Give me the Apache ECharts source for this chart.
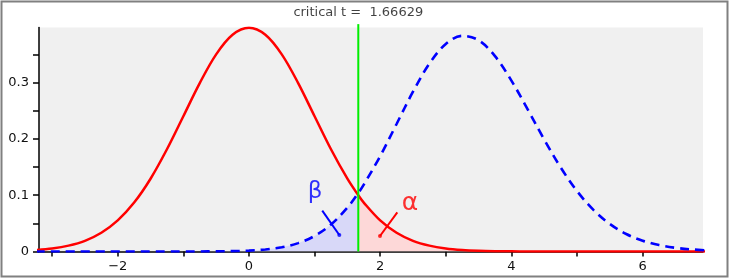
<!DOCTYPE html>
<html>
<head>
<meta charset="utf-8">
<script src="https://cdn.jsdelivr.net/npm/echarts@6/dist/echarts.min.js"></script>
<style>
html,body{margin:0;padding:0;background:#fff;}
#c{width:731px;height:280px;}
</style>
</head>
<body>
<div id="c"></div>
<script>
// ---- data ----
var xValues = [-3.25,-3,-2.75,-2.5,-2.25,-2,-1.75,-1.5,-1.25,-1,-0.75,-0.5,-0.25,0,0.25,0.5,0.75,1,1.25,1.5,1.66629,1.75,2,2.25,2.5,2.75,3,3.25,3.5,3.75,4,4.25,4.5,4.75,5,5.25,5.5,5.75,6,6.25,6.5,6.75,7];
var centralT = [0.0027,0.0054,0.0104,0.0190,0.0333,0.0553,0.0869,0.1293,0.1816,0.2403,0.2992,0.3503,0.3851,0.3975,0.3851,0.3503,0.2992,0.2403,0.1816,0.1293,0.0999,0.0869,0.0553,0.0333,0.0190,0.0104,0.0054,0.0027,0.0013,0.0006,0.0003,0.0001,0,0,0,0,0,0,0,0,0,0,0];
var noncentralT = [0,0,0,0,0,0,0,0,0,0,0.0001,0.0003,0.0007,0.0016,0.0036,0.0075,0.0149,0.0276,0.0479,0.0780,0.1039,0.1188,0.1695,0.2266,0.2839,0.3338,0.3688,0.3832,0.3753,0.3471,0.3037,0.2521,0.1989,0.1495,0.1074,0.0739,0.0489,0.0311,0.0192,0.0114,0.0066,0.0037,0.0020];
var criticalT = 1.66629;
var criticalLineTop = 0.404;
var xTickValues = [-3,-2,-1,0,1,2,3,4,5,6];
var xLabelValues = [-2,0,2,4,6];
var yTickValues = [0,0.05,0.1,0.15,0.2,0.25,0.3,0.35];
var yLabelValues = [0,0.1,0.2,0.3];
var betaText = 'β', alphaText = 'α';
var betaLabelAt = [1.006,0.1057], betaPointer = [[1.117,0.0725],[1.377,0.0293]];
var alphaLabelAt = [2.454,0.0861], alphaPointer = [[2.261,0.0696],[1.997,0.0275]];

// ---- build series data ----
function pairs(xs, ys){ return xs.map(function(x,i){return [x, ys[i]];}); }
var redData = pairs(xValues, centralT);
var blueData = pairs(xValues, noncentralT);
var cut = xValues.indexOf(criticalT);
var betaArea = blueData.slice(0, cut + 1);
var alphaArea = redData.slice(cut);

var font = 'DejaVu Sans';
var chart = echarts.init(document.getElementById('c'), null, {renderer:'canvas'});
var SM = 0.35;
chart.setOption({
  animation:false,
  backgroundColor:'#ffffff',
  graphic:[{type:'rect', shape:{x:1.5,y:1.5,width:726,height:275}, style:{fill:null, stroke:'#808080', lineWidth:2}, silent:true, z:-1}],
  grid:{left:39, right:28, top:27.5, bottom:28.5, show:true, backgroundColor:'#f0f0f0', borderWidth:0},
  xAxis:{type:'value', min:-3.2, max:6.92,
    axisLine:{onZero:false, lineStyle:{color:'#000', width:1.5}},
    axisTick:{customValues:xTickValues, length:5, lineStyle:{color:'#000', width:1.5}},
    axisLabel:{customValues:xLabelValues, margin:9, color:'#111', fontFamily:font, fontSize:13,
      formatter:function(v){return String(v).replace('-', '\u2212');}},
    splitLine:{show:false}},
  yAxis:{type:'value', min:0, max:0.398,
    axisLine:{show:true, onZero:false, lineStyle:{color:'#000', width:1.5}},
    axisTick:{show:true, customValues:yTickValues, length:6, lineStyle:{color:'#000', width:1.5}},
    axisLabel:{customValues:yLabelValues, margin:10, color:'#111', fontFamily:font, fontSize:13,
      formatter:function(v){return v===0?'0':String(v);}},
    splitLine:{show:false}},
  series:[
    {type:'line', data:betaArea, smooth:SM, showSymbol:false, lineStyle:{width:0}, areaStyle:{color:'#d8d8f8', opacity:1}, z:1},
    {type:'line', data:alphaArea, smooth:SM, showSymbol:false, lineStyle:{width:0}, areaStyle:{color:'#fdd8d8', opacity:1}, z:1},
    {type:'line', data:redData, smooth:SM, showSymbol:false, lineStyle:{color:'#ff0000', width:2.5}, z:3},
    {type:'line', data:blueData, smooth:SM, showSymbol:false, lineStyle:{color:'#0000ff', width:2.6, type:[9,6]}, z:4},
    {type:'line', data:[[criticalT,0],[criticalT,criticalLineTop]], showSymbol:false, clip:false,
      lineStyle:{color:'#00ee00', width:2}, z:5},
    {type:'scatter', data:[[criticalT,criticalLineTop]], symbolSize:0, clip:false, z:6,
      label:{show:true, position:'top', distance:5, formatter:'critical t =  1.66629', color:'#111', fontFamily:font, fontSize:13}},
    {type:'line', data:betaPointer, showSymbol:false, lineStyle:{color:'#0000ff', width:2}, z:6},
    {type:'line', data:alphaPointer, showSymbol:false, lineStyle:{color:'#ff0000', width:2}, z:6},
    {type:'scatter', data:[betaPointer[1]], symbolSize:4, itemStyle:{color:'#0000ff'}, z:7},
    {type:'scatter', data:[alphaPointer[1]], symbolSize:4, itemStyle:{color:'#ff0000'}, z:7},
    {type:'scatter', data:[betaLabelAt], symbolSize:0, z:7,
      label:{show:true, position:'inside', formatter:betaText, color:'#0000ff', fontFamily:font, fontSize:23}},
    {type:'scatter', data:[alphaLabelAt], symbolSize:0, z:7,
      label:{show:true, position:'inside', formatter:alphaText, color:'#ff0000', fontFamily:font, fontSize:25}}
  ]
});
</script>
</body>
</html>
